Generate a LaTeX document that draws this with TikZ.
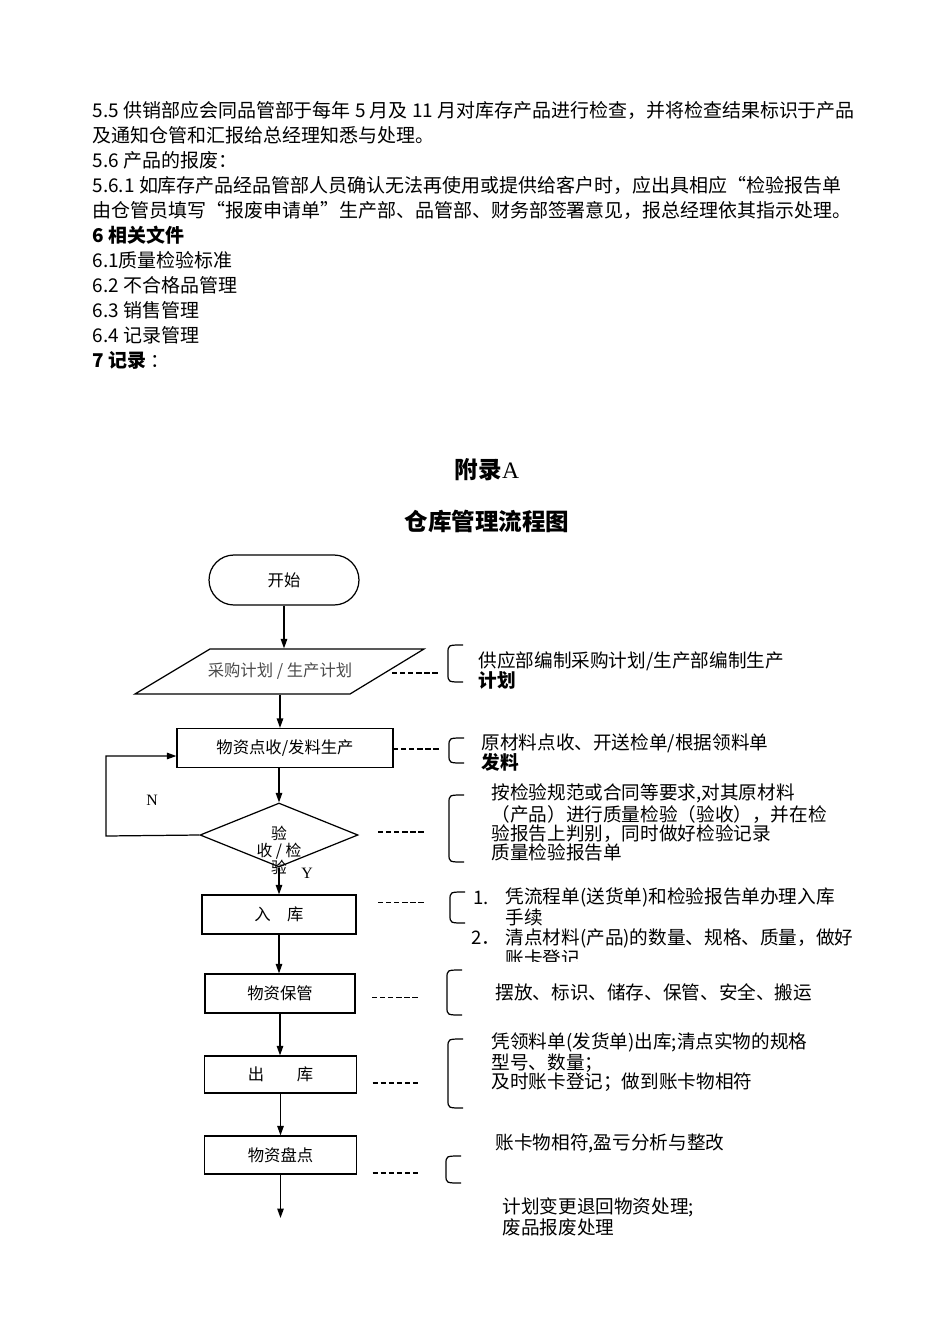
\documentclass[tikz,border=0pt]{standalone}
\usepackage{fontspec}
\setmainfont{Noto Sans CJK SC}
\newfontfamily\latinserif{Liberation Serif}
\usepackage{tikz}
\usetikzlibrary{arrows.meta,positioning,calc,shapes.geometric}

\begin{document}
\begin{tikzpicture}[x=0.02cm,y=-0.02cm,line width=0.7pt,>={Triangle[length=1.9mm,width=1.3mm]},
  body/.style={anchor=west,inner sep=0pt,font=\fontsize{10.8}{12}\selectfont},
  note/.style={anchor=west,inner sep=0pt,align=left,font=\fontsize{10.6}{10.8}\selectfont},
  notewide/.style={note,font=\fontsize{10.6}{11.9}\selectfont},
  flowbox/.style={draw,rectangle,minimum width=3.04cm,minimum height=0.77cm,inner sep=0pt,font=\fontsize{9.3}{11}\selectfont},
  link/.style={dash pattern=on 3pt off 1.6pt,line width=0.7pt},
  flow/.style={->}]
\useasboundingbox (0,0) rectangle (950,1344);

% running text above the chart
\foreach \txt [count=\i] in {
  5.5 供销部应会同品管部于每年 5 月及 11 月对库存产品进行检查，并将检查结果标识于产品,
  及通知仓管和汇报给总经理知悉与处理。,
  5.6 产品的报废：,
  5.6.1 如库存产品经品管部人员确认无法再使用或提供给客户时，应出具相应“检验报告单,
  由仓管员填写“报废申请单”生产部、品管部、财务部签署意见，报总经理依其指示处理。,
  {\bfseries 6 相关文件},
  6.1质量检验标准,
  6.2 不合格品管理,
  6.3 销售管理,
  6.4 记录管理,
  {{\bfseries 7 记录} ：}}
  \node[body] (line\i) at (92,{110+25*(\i-1)}) {\txt};

% titles
\node[font=\fontsize{13.4}{16}\selectfont\bfseries] (appx) at (487,470) {附录{\mdseries\latinserif A}};
\node[font=\fontsize{13.4}{16}\selectfont\bfseries] (title) at (487,521) {仓库管理流程图};

% flow chart
\node[draw,minimum width=3cm,minimum height=1cm,rounded corners=0.5cm,font=\fontsize{9.3}{11}\selectfont] (start) at (284,580) {开始};
\node[minimum width=4.3cm,minimum height=0.9cm,inner sep=0pt,text=black!70,font=\fontsize{9.3}{11}\selectfont] (pur) at (280,671.5) {采购计划 / 生产计划};
\draw (pur.center) ++(-70,-22.5) -- ++(214,0) -- ++(-74,45) -- ++(-215,0) -- cycle;
\node[flowbox,minimum width=4.32cm,minimum height=0.78cm] (recv) at (285,748) {物资点收/发料生产};
\node[draw,diamond,minimum width=3.16cm,minimum height=1.28cm,inner sep=0pt] (chk) at (279,835) {};
\node[align=center,inner sep=0pt,font=\fontsize{9}{9.6}\selectfont] (chktxt) at (279,850.5) {验\\收 / 检\\验};
\node[flowbox,minimum width=3.08cm,minimum height=0.78cm] (in) at (279,914.5) {入\hspace{1em}库};
\node[flowbox,minimum width=3cm,minimum height=0.78cm] (keep) at (280,993.5) {物资保管};
\node[flowbox,minimum height=0.74cm] (out) at (280.5,1074.5) {出\hspace{2em}库};
\node[flowbox,minimum height=0.76cm] (cnt) at (280.5,1155) {物资盘点};
\coordinate (end) at (280.5,1218);
\coordinate (back) at (106,836);

\draw[flow] (start.south) -- (start.south |- pur.north);
\draw[flow] (pur.south) -- (pur.south |- recv.north);
\draw[flow] (recv.south -| chk.north) -- (chk.north);
\draw[flow] (chk.south) -- (chk.south |- in.north);
\draw[flow] (in.south) -- (in.south |- keep.north);
\draw[flow] (keep.south) -- (keep.south |- out.north);
\draw[flow] (out.south) -- (out.south |- cnt.north);
\draw[flow] (cnt.south) -- (end);
\draw[flow] (chk.west) -- (back) |- ($(recv.west)+(0,8)$);
\node[font=\fontsize{9}{10}\latinserif] (no) at (152,800) {N};
\node[font=\fontsize{9}{10}\latinserif] (yes) at (307,873) {Y};

% dashed leaders and side braces
\foreach \n/\dx/\dy in {pur/112/1.5,recv/108/1,chk/99/-3,in/99/-12,keep/92/4,out/92/8.5,cnt/92/18}
  \draw[link] ($(\n.center)+(\dx,\dy)$) -- ++(47,0);
\foreach \bx/\bt/\bb in {448/645/682,449/738/763,449/795/862,450/892/923,447/970/1015,448/1039/1108,446/1156/1183}
  \draw (\bx+15,\bt) .. controls (\bx,\bt) .. (\bx,\bt+8) -- (\bx,\bb-8) .. controls (\bx,\bb) .. (\bx+15,\bb);

% notes
\node[notewide] (pur-note) at (478,670.5) {供应部编制采购计划/生产部编制生产\\{\bfseries 计划}};
\node[notewide] (recv-note) at (481,752.5) {原材料点收、开送检单/根据领料单\\{\bfseries 发料}};
\node[note] (chk-note) at (491,822.5) {按检验规范或合同等要求,对其原材料\\（产品）进行质量检验（验收），并在检\\验报告上判别，同时做好检验记录\\质量检验报告单};
\node[note] (in-num1) at (473,898) {1.};
\node[note,font=\fontsize{10.6}{10.2}\selectfont] (in-note1) at (505,907) {凭流程单(送货单)和检验报告单办理入库\\手续};
\node[note] (in-num2) at (471,938) {2．};
\begin{scope}
  \clip (440,925) rectangle (900,961);
  \node[note] (in-note2) at (505,947.5) {清点材料(产品)的数量、规格、质量，做好\\账卡登记};
\end{scope}
\node[note] (keep-note) at (495,992) {摆放、标识、储存、保管、安全、搬运};
\node[note] (out-note) at (491,1062) {凭领料单(发货单)出库;清点实物的规格\\型号、数量；\\及时账卡登记；做到账卡物相符};
\node[note] (cnt-note) at (495,1143) {账卡物相符,盈亏分析与整改};
\node[note] (end-note) at (502,1216.5) {计划变更退回物资处理;\\废品报废处理};
\end{tikzpicture}
\end{document}
